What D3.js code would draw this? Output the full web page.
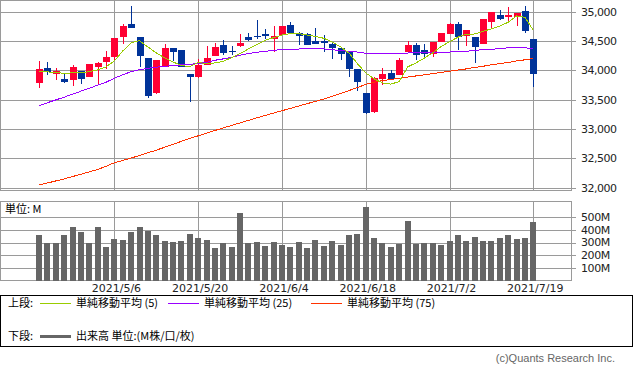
<!DOCTYPE html>
<html>
<head>
<meta charset="utf-8">
<script src="https://cdn.jsdelivr.net/npm/d3@7"></script>
<style>
  body { margin: 0; background: #fff; }
  text { font-family: "DejaVu Sans", sans-serif; }
  .jp { font-family: "Noto Sans CJK JP", sans-serif; font-size: 11px; fill: #000; }
</style>
</head>
<body>
<svg id="chart"></svg>
<script>
// Date ticks (bar index -> label)
var tickIndex = [9, 19, 29, 39, 49, 59];
var tickLabels = ["2021/5/6", "2021/5/20", "2021/6/4", "2021/6/18", "2021/7/2", "2021/7/19"];

// OHLC, 60 trading days
var open  = [33787,34036,33934,33849,33832,33985,33889,34059,34138,34229,
             34569,34784,34563,34206,33617,34059,34376,34342,33934,33889,
             34098,34246,34427,34325,34416,34569,34586,34614,34535,34608,
             34767,34642,34625,34495,34495,34455,34382,34310,34015,33619,
             33296,33850,33960,33928,34314,34438,34342,34285,34489,34625,
             34784,34586,34569,34455,34824,34948,34909,34909,35005,34529];
var high  = [34155,34138,34036,33934,34087,33985,34110,34144,34331,34560,
             34795,35090,34563,34206,34183,34450,34376,34342,33934,34200,
             34416,34467,34512,34410,34625,34637,34852,34699,34750,34750,
             34818,34654,34637,34727,34608,34467,34382,34325,34015,33619,
             33890,34035,34002,34217,34495,34467,34455,34489,34637,34807,
             34818,34693,34569,34880,34994,35022,35079,34982,35090,34529];
var low   = [33702,33923,33843,33792,33736,33764,33880,33764,34030,34155,
             34455,34722,34059,33532,33594,34059,34155,34059,33464,33877,
             34098,34246,34257,34257,34399,34501,34529,34529,34314,34608,
             34637,34427,34438,34444,34314,34200,34172,33880,33640,33260,
             33280,33750,33849,33928,34314,34183,34189,34229,34489,34625,
             34342,34410,34127,34455,34722,34852,34824,34756,34637,33719];
var close = [34030,33968,33991,33804,34053,33849,34104,34127,34223,34552,
             34761,34722,34246,33560,34183,34376,34314,34059,33889,34087,
             34212,34399,34297,34308,34467,34512,34569,34586,34580,34750,
             34637,34586,34438,34444,34467,34382,34280,34025,33805,33278,
             33875,33935,33850,34183,34427,34268,34285,34489,34637,34795,
             34569,34682,34399,34869,34994,34875,34937,34982,34665,33945];

// Volume (M)
var volume = [356,297,300,356,418,379,297,418,264,325,
              318,379,418,387,356,310,302,310,364,333,
              318,256,295,264,525,297,302,271,302,279,
              264,302,257,318,271,310,279,356,364,572,
              333,295,264,287,464,287,295,300,279,310,
              356,310,341,310,310,333,356,325,333,456];

// Moving averages
var ma5  = [33974,33974,33962,33951,33957,33957,33979,34008,34059,34161,
            34331,34472,34506,34399,34297,34212,34144,34081,34064,34138,
            34112,34127,34155,34217,34285,34365,34438,34512,34557,34603,
            34625,34625,34603,34580,34546,34484,34399,34297,34115,33957,
            33855,33787,33765,33810,34059,34127,34210,34300,34405,34488,
            34565,34615,34620,34665,34708,34755,34820,34928,34905,34682];
var ma25 = [33395,33448,33496,33543,33594,33645,33696,33747,33798,33866,
            33926,33977,34011,34036,34053,34070,34082,34094,34104,34116,
            34138,34172,34196,34223,34257,34286,34308,34325,34342,34354,
            34359,34364,34369,34371,34366,34351,34337,34325,34313,34291,
            34283,34286,34291,34294,34296,34300,34303,34308,34311,34313,
            34317,34325,34342,34351,34359,34371,34385,34396,34385,34371];
var ma75 = [32047,32080,32115,32150,32190,32230,32270,32310,32365,32426,
            32465,32505,32550,32595,32640,32690,32740,32790,32840,32885,
            32930,32975,33020,33062,33105,33148,33190,33232,33272,33312,
            33352,33392,33432,33472,33512,33558,33606,33655,33708,33760,
            33800,33825,33845,33865,33885,33905,33925,33945,33965,33985,
            34005,34025,34050,34070,34095,34115,34135,34160,34180,34201];

var priceTicks = [32000, 32500, 33000, 33500, 34000, 34500, 35000];
var volTicks = [100, 200, 300, 400, 500];

// legend entries
var legendTop = [
  {name: "単純移動平均 (5)", color: "#99cc00"},
  {name: "単純移動平均 (25)", color: "#9900ff"},
  {name: "単純移動平均 (75)", color: "#ff3300"}
];

var width = 633, height = 372;
var plotRight = 571;
var grid = "#9a9a9a";
var upColor = "#ff0033", downColor = "#003399";

var svg = d3.select("#chart")
    .attr("width", width)
    .attr("height", height);

var x = d3.scalePoint().domain(d3.range(open.length)).range([39, 533.3]);
var y = d3.scaleLinear().domain([32000, 35000]).range([187.7, 11.7]);
var yv = d3.scaleLinear().domain([0, 500]).range([281.2, 216.7]);

// ---- upper panel grid
var upper = svg.append("g").attr("shape-rendering", "crispEdges");

upper.selectAll(".hgrid")
    .data(priceTicks)
  .enter().append("line")
    .attr("x1", 0).attr("x2", plotRight + 5)
    .attr("y1", function(d) { return Math.round(y(d)) + 0.5; })
    .attr("y2", function(d) { return Math.round(y(d)) + 0.5; })
    .attr("stroke", grid);

upper.selectAll(".vgrid")
    .data(tickIndex)
  .enter().append("line")
    .attr("x1", function(d) { return Math.round(x(d)) + 0.5; })
    .attr("x2", function(d) { return Math.round(x(d)) + 0.5; })
    .attr("y1", 0).attr("y2", 190)
    .attr("stroke", grid);

upper.append("rect")
    .attr("x", 0.5).attr("y", 0.5)
    .attr("width", plotRight - 0.5).attr("height", 189.5)
    .attr("fill", "none").attr("stroke", grid);

svg.selectAll(".plabel")
    .data(priceTicks)
  .enter().append("text")
    .attr("x", 581)
    .attr("y", function(d) { return y(d); })
    .attr("dy", "0.36em")
    .style("font-size", "11px")
    .style("letter-spacing", "-0.5px")
    .attr("fill", "#222")
    .text(d3.format(","));

// ---- lower panel grid
var lower = svg.append("g").attr("shape-rendering", "crispEdges");

lower.selectAll(".hgrid")
    .data(volTicks)
  .enter().append("line")
    .attr("x1", 0).attr("x2", plotRight + 5)
    .attr("y1", function(d) { return Math.round(yv(d)) + 0.5; })
    .attr("y2", function(d) { return Math.round(yv(d)) + 0.5; })
    .attr("stroke", grid);

lower.selectAll(".vgrid")
    .data(tickIndex)
  .enter().append("line")
    .attr("x1", function(d) { return Math.round(x(d)) + 0.5; })
    .attr("x2", function(d) { return Math.round(x(d)) + 0.5; })
    .attr("y1", 201).attr("y2", 281)
    .attr("stroke", grid);

lower.append("rect")
    .attr("x", 0.5).attr("y", 201.5)
    .attr("width", plotRight - 0.5).attr("height", 79)
    .attr("fill", "none").attr("stroke", grid);

svg.selectAll(".vlabel")
    .data(volTicks)
  .enter().append("text")
    .attr("x", 581)
    .attr("y", function(d) { return yv(d); })
    .attr("dy", "0.36em")
    .style("font-size", "11px")
    .style("letter-spacing", "-0.4px")
    .attr("fill", "#222")
    .text(function(d) { return d + "M"; });

svg.append("text")
    .attr("class", "jp")
    .attr("x", 5).attr("y", 209)
    .attr("dy", "0.36em")
    .text("単位: M");

// date labels
svg.selectAll(".xlabel")
    .data(tickIndex)
  .enter().append("text")
    .attr("x", function(d) { return x(d) + 2; })
    .attr("y", 288)
    .attr("dy", "0.36em")
    .attr("text-anchor", "middle")
    .style("font-size", "11px")
    .attr("fill", "#222")
    .text(function(d, i) { return tickLabels[i]; });

// ---- volume bars
lower.selectAll(".vol")
    .data(volume)
  .enter().append("rect")
    .attr("x", function(d, i) { return Math.round(x(i)) - 3; })
    .attr("y", function(d) { return yv(d); })
    .attr("width", 6)
    .attr("height", function(d) { return 281 - yv(d); })
    .attr("fill", "#666666");

// ---- candles
var candles = svg.append("g").attr("shape-rendering", "crispEdges");
var idx = d3.range(open.length);

candles.selectAll(".wick")
    .data(idx)
  .enter().append("line")
    .attr("x1", function(i) { return Math.round(x(i)) + 0.5; })
    .attr("x2", function(i) { return Math.round(x(i)) + 0.5; })
    .attr("y1", function(i) { return y(high[i]); })
    .attr("y2", function(i) { return y(low[i]); })
    .attr("stroke", function(i) { return close[i] >= open[i] ? upColor : downColor; });

candles.selectAll(".body")
    .data(idx)
  .enter().append("rect")
    .attr("x", function(i) { return Math.round(x(i)) - 3; })
    .attr("y", function(i) { return y(Math.max(open[i], close[i])); })
    .attr("width", 7)
    .attr("height", function(i) { return Math.max(1, Math.abs(y(open[i]) - y(close[i]))); })
    .attr("fill", function(i) { return close[i] >= open[i] ? upColor : downColor; });

// ---- moving averages (thin, aliased like the original)
var line = d3.line()
    .x(function(d, i) { return x(i); })
    .y(function(d) { return y(d); });

[ma75, ma25, ma5].forEach(function(s, k) {
  svg.append("path")
      .datum(s)
      .attr("d", line)
      .attr("fill", "none")
      .attr("stroke", legendTop[2 - k].color)
      .attr("stroke-width", 1)
      .attr("shape-rendering", "crispEdges");
});

// ---- legend
var leg = svg.append("g");
leg.append("rect")
    .attr("x", 0.5).attr("y", 295.5)
    .attr("width", 632).attr("height", 50.5)
    .attr("fill", "none").attr("stroke", "#000")
    .attr("shape-rendering", "crispEdges");

leg.append("text").attr("class", "jp")
    .attr("x", 8).attr("y", 303.5).attr("dy", "0.36em").text("上段:");

var legX = [40, 168, 311];
legendTop.forEach(function(d, i) {
  leg.append("line")
      .attr("x1", legX[i]).attr("x2", legX[i] + 31)
      .attr("y1", 303.5).attr("y2", 303.5)
      .attr("stroke", d.color);
  leg.append("text").attr("class", "jp")
      .attr("x", legX[i] + 36).attr("y", 303.5).attr("dy", "0.36em")
      .text(d.name);
});

leg.append("text").attr("class", "jp")
    .attr("x", 8).attr("y", 336.5).attr("dy", "0.36em").text("下段:");
leg.append("line")
    .attr("x1", 40).attr("x2", 71)
    .attr("y1", 336.5).attr("y2", 336.5)
    .attr("stroke", "#666").attr("stroke-width", 3);
leg.append("text").attr("class", "jp")
    .attr("x", 76).attr("y", 336.5).attr("dy", "0.36em")
    .text("出来高 単位:(M株/口/枚)");

svg.append("text")
    .attr("x", 615).attr("y", 358)
    .attr("dy", "0.36em")
    .attr("text-anchor", "end")
    .style("font-family", "'Liberation Sans', sans-serif")
    .style("font-size", "11px")
    .attr("fill", "#666")
    .text("(c)Quants Research Inc.");
</script>
</body>
</html>
